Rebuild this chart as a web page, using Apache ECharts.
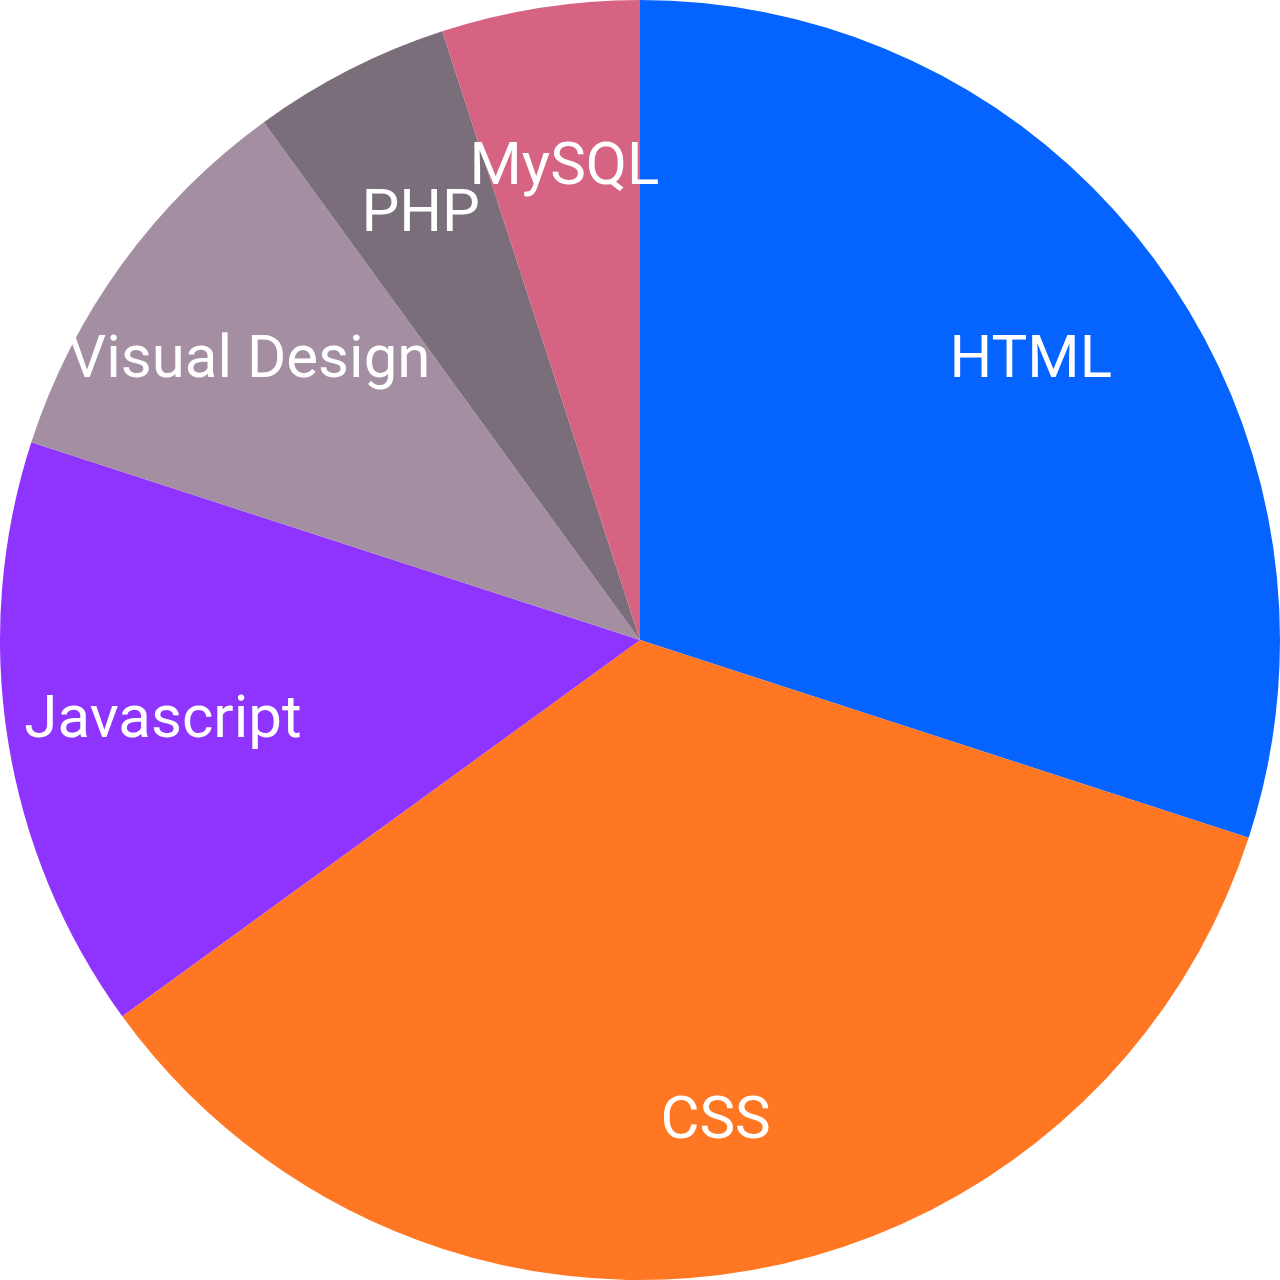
<!DOCTYPE html>
<html>
<head>
<meta charset="utf-8">
<script src="https://cdn.jsdelivr.net/npm/echarts@6/dist/echarts.min.js"></script>
<style>html,body{margin:0;padding:0;background:#fff}#c{width:1280px;height:1280px}</style>
</head>
<body>
<div id="c"></div>
<script>
const categories = ["HTML", "CSS", "Javascript", "Visual Design", "PHP", "MySQL"];
const values = [30, 35, 15, 10, 5, 5];
const colors = ["#0563FF", "#FF7722", "#8F33FF", "#A38EA2", "#7A6E7A", "#D66382"];

const data = categories.map((n, i) => ({ name: n, value: values[i], itemStyle: { color: colors[i] } }));
const labelData = categories.map((n, i) => ({ name: n, value: values[i] }));

const chart = echarts.init(document.getElementById('c'), null, { renderer: 'canvas' });
chart.setOption({
  animation: false,
  series: [
    {
      type: 'pie',
      center: ['50%', '50%'],
      radius: [0, 640],
      startAngle: 90,
      clockwise: true,
      label: { show: false },
      labelLine: { show: false },
      itemStyle: { borderWidth: 0 },
      data: data,
      silent: true
    },
    {
      type: 'pie',
      center: ['50%', '50%'],
      radius: [320, 640],
      startAngle: 90,
      clockwise: true,
      avoidLabelOverlap: false,
      itemStyle: { color: 'rgba(0,0,0,0)', borderWidth: 0 },
      label: {
        show: true,
        position: 'inside',
        rotate: 0,
        color: '#fff',
        fontFamily: 'Roboto',
        fontSize: 60,
        offset: [0, 6],
        formatter: '{b}'
      },
      labelLayout: { hideOverlap: false },
      labelLine: { show: false },
      data: labelData,
      silent: true,
      z: 3
    }
  ]
});
</script>
</body>
</html>
